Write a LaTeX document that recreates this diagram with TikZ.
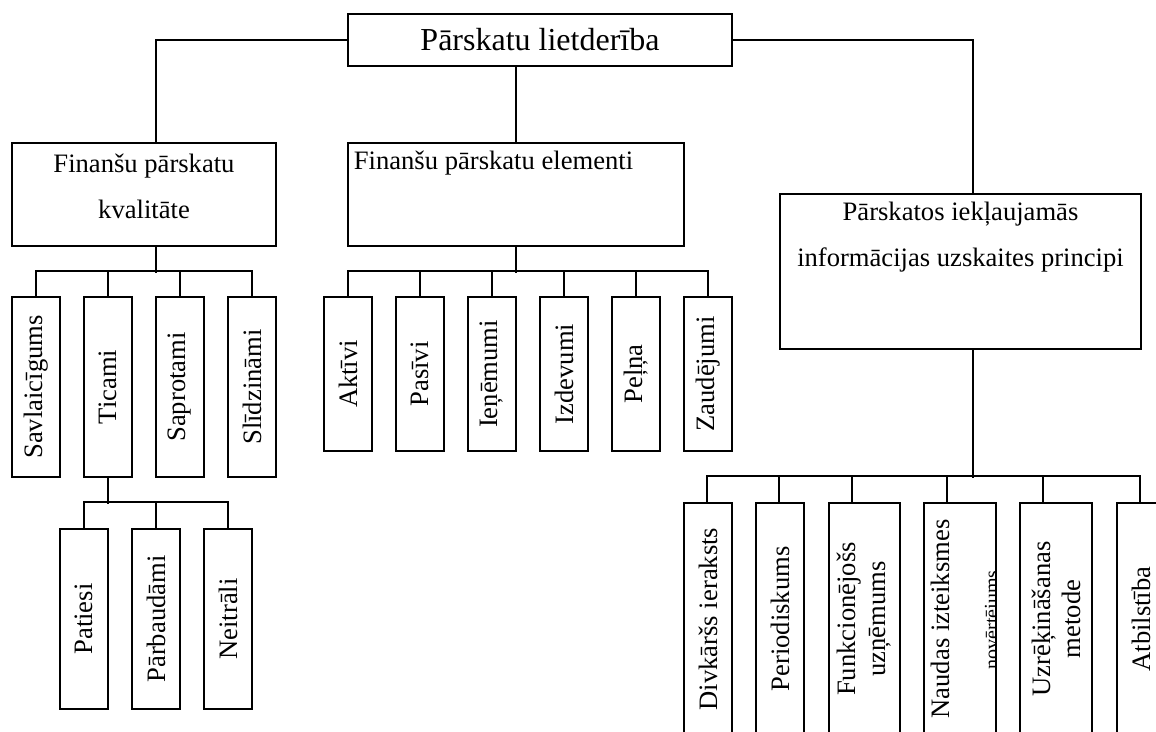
\documentclass[tikz,border=0pt]{standalone}
\usepackage{fontspec}
\setmainfont{Liberation Serif}

\begin{document}
\begin{tikzpicture}[x=1pt,y=-1pt,line width=1.8pt]
    \tikzstyle{box}=[rectangle,draw=black,inner sep=0pt,font=\fontsize{26.6}{30}\selectfont]
    \tikzstyle{leaf}=[box,rotate=90,minimum height=48pt,align=center]
    \tikzstyle{txt}=[inner sep=0pt,align=center,font=\fontsize{26.6}{46}\selectfont]
    \useasboundingbox (0,0) rectangle (1156,731);
    \clip (0,0) rectangle (1156,731);

    \node[box,minimum width=384pt,minimum height=52pt,font=\fontsize{32}{36}\selectfont] (use) at (540,40) {Pārskatu lietderība};

    \node[box,minimum width=264pt,minimum height=103pt] (qual) at (144,194.5) {};
    \node[txt] (qual-t) at (144,186) {Finanšu pārskatu\\kvalitāte};
    \node[box,minimum width=336pt,minimum height=103pt] (elem) at (516,194.5) {};
    \node[txt,anchor=west] (elem-t) at (353,163) {Finanšu pārskatu elementi};
    \node[box,minimum width=361pt,minimum height=155pt] (princ) at (960.5,271.5) {};
    \node[txt] (princ-t) at (960.5,237.5) {Pārskatos iekļaujamās\\informācijas uzskaites principi};

    \foreach \num/\x/\name in {1/36/Savlaicīgums, 2/108/Ticami, 3/180/Saprotami, 4/252/Slīdzināmi}
        \node[leaf,minimum width=180pt] (Q-\num) at (\x,387) {\name};
    \foreach \num/\x/\name in {1/84/Patiesi, 2/156/Pārbaudāmi, 3/228/Neitrāli}
        \node[leaf,minimum width=180pt] (T-\num) at (\x,619) {\name};
    \foreach \num/\x/\name in {1/348/Aktīvi, 2/420/Pasīvi, 3/492/Ieņēmumi, 4/564/Izdevumi, 5/636/Peļņa, 6/708/Zaudējumi}
        \node[leaf,minimum width=154pt] (E-\num) at (\x,374) {\name};
    \foreach \num/\x/\w/\name in {1/708/48/Divkāršs ieraksts, 2/780/48/Periodiskums, 3/864.5/71/{Funkcionējošs\\uzņēmums},
            4/960/72/{Naudas izteiksmes\\\strut}, 5/1056/72/{Uzrēķināšanas\\metode}, 6/1141/48/Atbilstība}
        \node[leaf,minimum width=232pt,minimum height=\w pt] (P-\num) at (\x,619) {\name};

    \begin{scope}
        \clip (P-4.south west) rectangle (P-4.north east);
        \node[rotate=90,anchor=base,inner sep=0pt,font=\fontsize{20}{20}\selectfont] (P-4-b) at (998,620) {novērtējums};
    \end{scope}

    \draw (use.west) -| ([xshift=12pt]qual.north);
    \draw (use.east) -| ([xshift=12.5pt]princ.north);
    \draw (elem.north) -- (elem.north |- use.south);

    \draw ([xshift=12pt]qual.south) -- ++(0,26);
    \draw (Q-1.east) -- ++(0,-25) -| (Q-4.east);
    \foreach \num in {2,3}
        \draw (Q-\num.east) -- ++(0,-25);

    \draw (Q-2.west) -- ++(0,26);
    \draw (T-1.east) -- ++(0,-26) -| (T-3.east);
    \draw (T-2.east) -- ++(0,-26);

    \draw (elem.south) -- ++(0,26);
    \draw (E-1.east) -- ++(0,-25) -| (E-6.east);
    \foreach \num in {2,...,5}
        \draw (E-\num.east) -- ++(0,-25);

    \draw ([xshift=12.5pt]princ.south) -- ++(0,128);
    \draw ([xshift=24pt]P-1.north east) -- ++(0,-26) -| ([xshift=24pt]P-6.north east);
    \foreach \num in {2,...,5}
        \draw ([xshift=24pt]P-\num.north east) -- ++(0,-26);
    % \draw (P-4.west) -- ++(0,20);
\end{tikzpicture}
\end{document}
